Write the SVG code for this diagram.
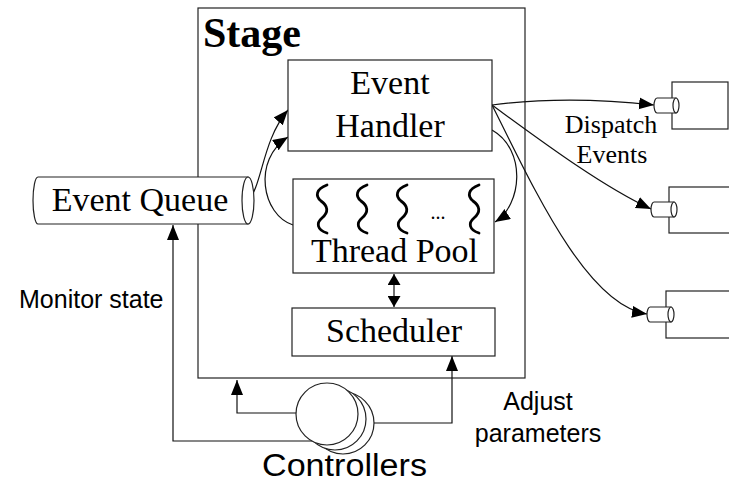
<svg xmlns="http://www.w3.org/2000/svg" width="729" height="482" viewBox="0 0 729 482">
<style>
.box{fill:#fff;stroke:#222;stroke-width:1.2}
.ln{fill:none;stroke:#111;stroke-width:1.2}
.serif{font-family:"Liberation Serif","Times New Roman",serif;fill:#000}
.sans{font-family:"Liberation Sans",Arial,sans-serif;fill:#000}
.sq{fill:none;stroke:#000;stroke-width:2.8;stroke-linecap:round}
</style>
<defs>
<marker id="ah" markerUnits="userSpaceOnUse" markerWidth="16" markerHeight="13" refX="15" refY="6" orient="auto-start-reverse">
<path d="M0,0 L15,6 L0,12 z" fill="#000"/>
</marker>
<marker id="ahs" markerUnits="userSpaceOnUse" markerWidth="12" markerHeight="13" refX="11" refY="6.5" orient="auto-start-reverse">
<path d="M0,0 L11,6.5 L0,13 z" fill="#000"/>
</marker>
</defs>

<g id="stage">
<rect class="box" x="198" y="8" width="327" height="370"/>
<text class="serif" x="203" y="47" font-size="42" font-weight="bold">Stage</text>
</g>

<g id="connectors">
<path class="ln" d="M248,200 C262,188 262,140 288,110" marker-end="url(#ah)"/>
<path class="ln" d="M293,225 C262,215 252,160 288,137" marker-end="url(#ah)"/>
<path class="ln" d="M492,130 C527,150 522,205 495,222" marker-end="url(#ah)"/>
<path class="ln" d="M492,105 C545,98 600,99 654,105" marker-end="url(#ah)"/>
<path class="ln" d="M492,105 C540,140 600,185 651,209" marker-end="url(#ah)"/>
<path class="ln" d="M492,105 C530,180 585,305 647,314" marker-end="url(#ah)"/>
<path class="ln" d="M394,274 L394,307" marker-start="url(#ahs)" marker-end="url(#ahs)"/>
<path class="ln" d="M320,441 L173,441 L173,225" marker-end="url(#ah)"/>
<path class="ln" d="M300,413 L237,413 L237,380" marker-end="url(#ah)"/>
<path class="ln" d="M370,423 L452,423 L452,356" marker-end="url(#ah)"/>
</g>

<g id="event-handler">
<rect class="box" x="288" y="60" width="204" height="91"/>
<text class="serif" x="390" y="94" font-size="34" text-anchor="middle">Event</text>
<text class="serif" x="390" y="137" font-size="34" text-anchor="middle">Handler</text>
</g>

<g id="thread-pool">
<rect class="box" x="293" y="179" width="201" height="94"/>
<path class="sq" d="M327,185 C316,189 315,196 321,201 C328,206 329,212 322,218 C316,223 317,230 327,233"/>
<path class="sq" d="M367,185 C356,189 355,196 361,201 C368,206 369,212 362,218 C356,223 357,230 367,233"/>
<path class="sq" d="M407,185 C396,189 395,196 401,201 C408,206 409,212 402,218 C396,223 397,230 407,233"/>
<path class="sq" d="M479,185 C468,189 467,196 473,201 C480,206 481,212 474,218 C468,223 469,230 479,233"/>
<text class="serif" x="438" y="219" font-size="20" text-anchor="middle">...</text>
<text class="serif" x="394.5" y="262" font-size="34" text-anchor="middle">Thread Pool</text>
</g>

<g id="scheduler">
<rect class="box" x="292" y="308" width="203" height="48"/>
<text class="serif" x="394" y="342" font-size="34" text-anchor="middle">Scheduler</text>
</g>

<g id="event-queue">
<path class="box" d="M38,177 L248,177 L248,224 L38,224 A5,23.5 0 0 1 38,177 z"/>
<ellipse class="box" cx="248" cy="200.5" rx="6" ry="23.5"/>
<text class="serif" x="140" y="211" font-size="34" text-anchor="middle">Event Queue</text>
</g>

<g id="controllers">
<circle class="box" cx="343" cy="423" r="31"/>
<circle class="box" cx="335" cy="419" r="31"/>
<circle class="box" cx="327" cy="414" r="31"/>
<text class="sans" x="344.5" y="476" font-size="31" text-anchor="middle" textLength="165" lengthAdjust="spacingAndGlyphs">Controllers</text>
</g>

<g id="component-1">
<rect class="box" x="672" y="82" width="56" height="47"/>
<path class="box" d="M657,98 L676,98 L676,113 L657,113 A3,7.5 0 0 1 657,98 z"/>
<ellipse class="box" cx="676" cy="105.5" rx="3" ry="7.5"/>
</g>
<g id="component-2">
<rect class="box" x="669" y="187" width="80" height="46"/>
<path class="box" d="M654,202 L674,202 L674,217 L654,217 A3,7.5 0 0 1 654,202 z"/>
<ellipse class="box" cx="674" cy="209.5" rx="3" ry="7.5"/>
</g>
<g id="component-3">
<rect class="box" x="666" y="291" width="80" height="47"/>
<path class="box" d="M650,307 L671,307 L671,322 L650,322 A3,7.5 0 0 1 650,307 z"/>
<ellipse class="box" cx="671" cy="314.5" rx="3" ry="7.5"/>
</g>

<g id="labels">
<text class="serif" x="611" y="133" font-size="26" text-anchor="middle">Dispatch</text>
<text class="serif" x="612" y="163" font-size="26" text-anchor="middle">Events</text>
<text class="sans" x="19" y="308" font-size="25">Monitor state</text>
<text class="sans" x="538" y="410" font-size="25" text-anchor="middle">Adjust</text>
<text class="sans" x="538" y="442" font-size="25" text-anchor="middle">parameters</text>
</g>
</svg>
